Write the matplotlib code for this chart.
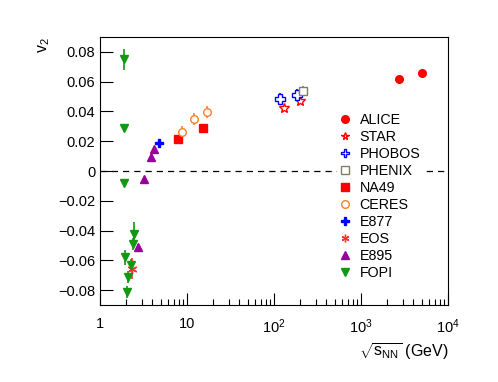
import matplotlib
matplotlib.use("Agg")
import matplotlib.pyplot as plt
from matplotlib.ticker import FixedLocator, FixedFormatter, LogLocator, NullFormatter

plt.rcParams["font.family"] = ["Liberation Sans", "DejaVu Sans"]
plt.rcParams["mathtext.fontset"] = "custom"
plt.rcParams["mathtext.rm"] = "Liberation Sans"
plt.rcParams["mathtext.it"] = "Liberation Sans"

# sqrt(s_NN) in GeV, v2, error
alice_x = [2760, 5020]
alice_y = [0.0621, 0.0655]
alice_e = [0.001, 0.001]

star_x = [130, 200]
star_y = [0.0425, 0.0470]
star_e = [0.002, 0.002]

phobos_x = [118, 185]
phobos_y = [0.0484, 0.0513]
phobos_e = [0.004, 0.004]

phenix_x = [215]
phenix_y = [0.0540]
phenix_e = [0.003]

na49_x = [7.9, 15.3]
na49_y = [0.0216, 0.0290]
na49_e = [0.0008, 0.0008]

ceres_x = [8.7, 12.1, 17.0]
ceres_y = [0.0260, 0.0349, 0.0398]
ceres_e = [0.004, 0.004, 0.004]

e877_x = [4.77]
e877_y = [0.0191]
e877_e = [0.001]

eos_x = [2.31]
eos_y = [-0.0655]
eos_e = [0.007]

e895_x = [3.2, 3.85, 4.15, 2.7]
e895_y = [-0.0056, 0.0097, 0.0150, -0.0510]
e895_e = [0.001, 0.001, 0.001, 0.002]

fopi_x = [1.89, 1.89, 1.89, 2.48, 2.42, 1.95, 2.30, 2.11, 2.03]
fopi_y = [0.0749, 0.0288, -0.0079, -0.0420, -0.0489, -0.0580, -0.0630, -0.0712, -0.0814]
fopi_e = [0.0073, 0.001, 0.001, 0.008, 0.004, 0.005, 0.004, 0.004, 0.004]

series = [
    ("ALICE", alice_x, alice_y, alice_e, "o", "#ff0000", True, 5.5),
    ("STAR", star_x, star_y, star_e, "*", "#ff0000", False, 7.5),
    ("PHOBOS", phobos_x, phobos_y, phobos_e, "P", "#0000ff", False, 6.5),
    ("PHENIX", phenix_x, phenix_y, phenix_e, "s", "#808060", False, 5.5),
    ("NA49", na49_x, na49_y, na49_e, "s", "#ff0000", True, 5.5),
    ("CERES", ceres_x, ceres_y, ceres_e, "o", "#ff7f27", False, 5.5),
    ("E877", e877_x, e877_y, e877_e, "P", "#0000ff", True, 5.5),
    ("EOS", eos_x, eos_y, eos_e, (6, 2, 0), "#ff3030", True, 7),
    ("E895", e895_x, e895_y, e895_e, "^", "#990099", True, 5.5),
    ("FOPI", fopi_x, fopi_y, fopi_e, "v", "#119911", True, 5.5),
]

fig = plt.figure(figsize=(4.98, 3.82), dpi=100)
ax = fig.add_axes([0.2008, 0.2016, 0.6988, 0.7015])

ax.axhline(0, color="black", lw=0.9, ls=(0, (5, 4)), zorder=1)

for name, xs, ys, es, marker, color, filled, size in series:
    ax.errorbar(
        xs, ys, yerr=es,
        fmt="none",
        ecolor=color,
        elinewidth=1.2,
        capsize=0,
        zorder=2,
    )
    ax.plot(
        xs, ys,
        linestyle="none",
        marker=marker,
        color=color,
        markersize=size,
        markerfacecolor=color if filled else "white",
        markeredgecolor=color,
        markeredgewidth=1.0,
        label=name,
        zorder=3,
    )

ax.set_xscale("log")
ax.set_xlim(1, 1e4)
ax.set_ylim(-0.09, 0.09)

ax.xaxis.set_major_locator(FixedLocator([1, 10, 100, 1000, 10000]))
ax.xaxis.set_major_formatter(
    FixedFormatter(["1", "10", r"$10^2$", r"$10^3$", r"$10^4$"])
)
ax.xaxis.set_minor_locator(LogLocator(base=10, subs=range(2, 10)))
ax.xaxis.set_minor_formatter(NullFormatter())

yt = [-0.08, -0.06, -0.04, -0.02, 0, 0.02, 0.04, 0.06, 0.08]
ax.set_yticks(yt)
ax.set_yticklabels(["\u22120.08", "\u22120.06", "\u22120.04", "\u22120.02", "0",
                    "0.02", "0.04", "0.06", "0.08"])

ax.tick_params(axis="both", which="major", direction="in", length=9,
               width=0.8, labelsize=10.5)
ax.tick_params(axis="x", which="major", pad=9)
ax.tick_params(axis="x", which="minor", direction="in", length=4.5, width=0.8)
ax.tick_params(axis="y", which="minor", left=False)

for sp in ax.spines.values():
    sp.set_linewidth(0.8)

ax.set_xlabel(r"$\sqrt{s_{\mathrm{NN}}}$ (GeV)", fontsize=11.5, loc="right")
ax.set_ylabel(r"v$_2$", fontsize=11.5, loc="top")

leg = ax.legend(
    loc="upper left",
    bbox_to_anchor=(0.66, 0.755),
    frameon=True,
    framealpha=1,
    edgecolor="none",
    fontsize=10.3,
    handlelength=0.8,
    handletextpad=0.6,
    labelspacing=0.21,
    borderpad=0.2,
)
for h in leg.legend_handles:
    h.set_markersize(5.5)

fig.savefig("out.png", dpi=100)
